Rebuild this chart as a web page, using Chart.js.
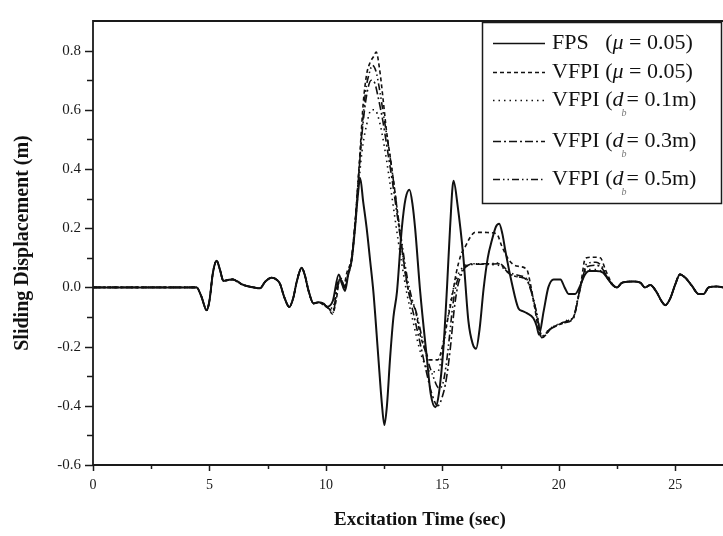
<!DOCTYPE html>
<html>
<head>
<meta charset="utf-8">
<script src="https://cdn.jsdelivr.net/npm/chart.js@4.4.1/dist/chart.umd.min.js"></script>
<style>
  html, body { margin: 0; padding: 0; background: #fff; }
  #wrap { width: 723px; height: 536px; position: relative; }
</style>
</head>
<body>
<div id="wrap"><canvas id="dispChart"></canvas></div>
<script>
// Shared start of the record (all five isolators move together up to ~9.7 s)
const preTime = [0, 4.45, 4.65, 4.88, 5.0, 5.15, 5.31, 5.45, 5.6, 5.8, 6.0, 6.2, 6.4, 6.6, 6.9, 7.17, 7.4, 7.67, 7.85, 8.03, 8.2, 8.43, 8.6, 8.75, 8.96, 9.1, 9.25, 9.47, 9.7];
const preDisp = [0, 0, -0.03, -0.077, -0.045, 0.05, 0.09, 0.06, 0.022, 0.025, 0.027, 0.02, 0.01, 0.005, 0.0, -0.003, 0.02, 0.033, 0.028, 0.012, -0.03, -0.066, -0.035, 0.02, 0.066, 0.04, -0.01, -0.054, -0.05];

// Shared end of the record (curves merge again after ~22.4 s)
const tailTime = [22.5, 22.7, 22.92, 23.2, 23.5, 23.7, 23.93, 24.2, 24.4, 24.57, 24.78, 25.0, 25.2, 25.43, 25.71, 26.0, 26.22, 26.43, 26.8, 27.05];
const tailDisp = [0.0, 0.015, 0.019, 0.02, 0.016, 0.0, 0.008, -0.016, -0.045, -0.06, -0.038, 0.01, 0.044, 0.033, 0.006, -0.022, -0.022, 0.0, 0.003, 0.0];

// FPS (mu = 0.05) - solid
const fpsTime = [9.9, 10.05, 10.3, 10.55, 10.7, 10.82, 10.95, 11.11, 11.25, 11.37, 11.47, 11.6, 11.75, 11.9, 12.04, 12.25, 12.4, 12.51, 12.62, 12.76, 12.9, 13.05, 13.26, 13.42, 13.59, 13.72, 13.83, 14.05, 14.33, 14.5, 14.7, 14.85, 15.05, 15.2, 15.33, 15.48, 15.65, 15.9, 16.12, 16.3, 16.45, 16.6, 16.77, 16.95, 17.13, 17.3, 17.44, 17.58, 17.7, 17.98, 18.27, 18.45, 18.63, 18.91, 19.05, 19.15, 19.35, 19.55, 19.78, 20.07, 20.25, 20.42, 20.7, 20.92, 21.1, 21.3, 21.6, 21.9, 22.1, 22.3];
const fpsDisp = [-0.055, -0.065, -0.045, 0.044, 0.01, -0.012, 0.04, 0.094, 0.2, 0.31, 0.37, 0.29, 0.2, 0.09, -0.016, -0.235, -0.39, -0.465, -0.4, -0.234, -0.1, -0.016, 0.2, 0.3, 0.33, 0.28, 0.2, -0.016, -0.235, -0.36, -0.405, -0.36, -0.2, 0.0, 0.2, 0.36, 0.28, 0.104, -0.115, -0.19, -0.207, -0.14, -0.005, 0.1, 0.16, 0.205, 0.215, 0.18, 0.126, 0.016, -0.071, -0.08, -0.087, -0.104, -0.13, -0.16, -0.08, 0.0, 0.027, 0.027, 0.0, -0.022, -0.022, 0.006, 0.04, 0.055, 0.055, 0.05, 0.03, 0.01];

// VFPI (mu = 0.05) - dashed
const vfpiMuTime = [9.9, 10.1, 10.28, 10.45, 10.6, 10.75, 10.9, 11.1, 11.25, 11.4, 11.5, 11.6, 11.75, 11.9, 12.05, 12.16, 12.3, 12.45, 12.6, 12.8, 13.0, 13.2, 13.4, 13.6, 13.85, 14.05, 14.3, 14.45, 14.8, 15.0, 15.2, 15.4, 15.6, 15.8, 16.0, 16.2, 16.4, 16.8, 17.0, 17.34, 17.55, 17.77, 18.0, 18.27, 18.63, 18.77, 18.95, 19.1, 19.27, 19.45, 19.63, 19.9, 20.2, 20.45, 20.63, 20.85, 21.0, 21.1, 21.2, 21.5, 21.78, 22.0, 22.2, 22.35];
const vfpiMuDisp = [-0.06, -0.07, -0.09, -0.04, 0.03, 0.0, 0.05, 0.1, 0.22, 0.38, 0.5, 0.62, 0.72, 0.76, 0.78, 0.795, 0.74, 0.64, 0.53, 0.42, 0.3, 0.17, 0.05, -0.03, -0.08, -0.16, -0.22, -0.245, -0.245, -0.2, -0.12, -0.04, 0.05, 0.11, 0.14, 0.17, 0.186, 0.186, 0.185, 0.18, 0.14, 0.104, 0.08, 0.071, 0.06, 0.016, -0.06, -0.13, -0.17, -0.16, -0.142, -0.13, -0.12, -0.11, -0.1, -0.03, 0.04, 0.09, 0.1, 0.102, 0.1, 0.06, 0.025, 0.005];

// VFPI (d_b = 0.1 m) - dotted
const vfpi01Time = [9.9, 10.1, 10.3, 10.5, 10.65, 10.8, 10.95, 11.1, 11.25, 11.4, 11.55, 11.75, 11.95, 12.1, 12.3, 12.5, 12.7, 12.9, 13.1, 13.3, 13.5, 13.7, 13.9, 14.1, 14.35, 14.5, 14.8, 15.0, 15.2, 15.4, 15.6, 15.8, 16.0, 16.4, 17.0, 17.4, 17.7, 17.9, 18.3, 18.63, 18.8, 19.0, 19.2, 19.3, 19.6, 20.0, 20.4, 20.63, 20.85, 21.05, 21.25, 21.6, 21.9, 22.1, 22.35];
const vfpi01Disp = [-0.055, -0.068, -0.07, 0.02, 0.03, 0.0, 0.04, 0.09, 0.2, 0.34, 0.46, 0.55, 0.6, 0.6, 0.56, 0.48, 0.38, 0.27, 0.16, 0.06, -0.03, -0.1, -0.17, -0.23, -0.275, -0.285, -0.285, -0.22, -0.12, -0.03, 0.03, 0.06, 0.075, 0.08, 0.077, 0.075, 0.06, 0.045, 0.035, 0.027, -0.01, -0.08, -0.15, -0.165, -0.14, -0.125, -0.11, -0.1, -0.03, 0.04, 0.06, 0.06, 0.05, 0.03, 0.005];

// VFPI (d_b = 0.3 m) - dash dot
const vfpi03Time = [9.9, 10.1, 10.3, 10.5, 10.65, 10.8, 10.95, 11.1, 11.25, 11.4, 11.55, 11.75, 11.95, 12.1, 12.25, 12.45, 12.65, 12.85, 13.05, 13.25, 13.45, 13.65, 13.85, 14.05, 14.3, 14.55, 14.8, 15.05, 15.19, 15.35, 15.5, 15.65, 15.85, 16.05, 16.4, 17.0, 17.4, 17.9, 18.3, 18.6, 18.8, 19.06, 19.27, 19.63, 20.2, 20.63, 20.85, 21.05, 21.2, 21.6, 21.9, 22.1, 22.35];
const vfpi03Disp = [-0.058, -0.07, -0.08, 0.01, 0.03, 0.0, 0.045, 0.09, 0.21, 0.37, 0.52, 0.65, 0.7, 0.69, 0.64, 0.56, 0.46, 0.36, 0.25, 0.14, 0.03, -0.05, -0.12, -0.19, -0.28, -0.36, -0.4, -0.355, -0.3, -0.2, -0.08, 0.0, 0.05, 0.072, 0.078, 0.078, 0.08, 0.044, 0.035, 0.027, -0.01, -0.093, -0.17, -0.142, -0.12, -0.104, -0.027, 0.038, 0.07, 0.075, 0.06, 0.03, 0.005];

// VFPI (d_b = 0.5 m) - dash dot dot
const vfpi05Time = [9.9, 10.1, 10.3, 10.5, 10.65, 10.8, 10.95, 11.1, 11.25, 11.4, 11.55, 11.7, 11.85, 12.0, 12.15, 12.3, 12.5, 12.7, 12.9, 13.1, 13.3, 13.5, 13.7, 13.9, 14.1, 14.35, 14.6, 14.85, 15.0, 15.15, 15.3, 15.45, 15.6, 15.8, 16.0, 16.4, 17.0, 17.4, 17.9, 18.3, 18.6, 18.8, 19.06, 19.27, 19.63, 20.2, 20.63, 20.85, 21.05, 21.2, 21.6, 21.9, 22.1, 22.35];
const vfpi05Disp = [-0.056, -0.07, -0.085, 0.0, 0.03, 0.0, 0.045, 0.095, 0.21, 0.37, 0.53, 0.66, 0.72, 0.75, 0.73, 0.67, 0.57, 0.47, 0.36, 0.24, 0.13, 0.03, -0.04, -0.09, -0.16, -0.24, -0.3, -0.34, -0.33, -0.27, -0.17, -0.06, 0.01, 0.05, 0.07, 0.08, 0.08, 0.082, 0.05, 0.04, 0.03, -0.005, -0.09, -0.165, -0.14, -0.118, -0.1, -0.025, 0.04, 0.08, 0.085, 0.065, 0.03, 0.005];

// join the shared start/end with each series' own middle part
function toPoints(midTime, midDisp) {
    const t = preTime.concat(midTime, tailTime);
    const v = preDisp.concat(midDisp, tailDisp);
    return t.map((x, i) => ({ x: x, y: v[i] }));
}

const serifFont = "'Liberation Serif', 'Times New Roman', serif";

// legend rows: [text, style] pieces, style '' normal, 'i' italic, 'sub' subscript
const legendText = [
    [['FPS   (', ''], ['\u03bc', 'i'], [' = 0.05)', '']],
    [['VFPI (', ''], ['\u03bc', 'i'], [' = 0.05)', '']],
    [['VFPI (', ''], ['d', 'i'], ['b', 'sub'], ['= 0.1m)', '']],
    [['VFPI (', ''], ['d', 'i'], ['b', 'sub'], ['= 0.3m)', '']],
    [['VFPI (', ''], ['d', 'i'], ['b', 'sub'], ['= 0.5m)', '']]
];

// Frame with outward tick marks (left, top, bottom only - the right side is cut off)
const framePlugin = {
    id: 'framePlugin',
    afterDatasetsDraw(chart) {
        const { ctx, chartArea: a, scales } = chart;
        const xs = scales.x, ys = scales.y;
        ctx.save();
        ctx.strokeStyle = '#1a1a1a';
        ctx.lineWidth = 1.8;
        ctx.beginPath();
        ctx.moveTo(a.right, a.top);
        ctx.lineTo(a.left, a.top);
        ctx.lineTo(a.left, a.bottom);
        ctx.lineTo(a.right, a.bottom);
        ctx.stroke();

        ctx.lineWidth = 1.5;
        ys.ticks.forEach(t => {
            if (t.value > 0.85) return;
            const py = Math.round(ys.getPixelForValue(t.value)) + 0.5;
            const len = t.label ? 8 : 6;
            ctx.beginPath();
            ctx.moveTo(a.left - len, py);
            ctx.lineTo(a.left, py);
            ctx.stroke();
        });
        xs.ticks.forEach(t => {
            const px = Math.round(xs.getPixelForValue(t.value)) + 0.5;
            ctx.beginPath();
            ctx.moveTo(px, a.bottom);
            ctx.lineTo(px, a.bottom + 6);
            ctx.stroke();
            // minor tick halfway to the next label
            const mid = t.value + 2.5;
            if (mid < xs.max) {
                const pm = Math.round(xs.getPixelForValue(mid)) + 0.5;
                ctx.beginPath();
                ctx.moveTo(pm, a.bottom);
                ctx.lineTo(pm, a.bottom + 4);
                ctx.stroke();
            }
        });
        ctx.restore();
    }
};

// Boxed legend with the line samples and subscripts
const legendPlugin = {
    id: 'legendPlugin',
    afterDraw(chart) {
        const ctx = chart.ctx;
        const rows = [43, 72, 100, 141, 179];
        ctx.save();
        ctx.fillStyle = '#fff';
        ctx.fillRect(482, 22, 240, 182);
        ctx.strokeStyle = '#1a1a1a';
        ctx.lineWidth = 1.5;
        ctx.strokeRect(482.5, 22.5, 239, 181);

        chart.data.datasets.forEach((ds, i) => {
            const y = rows[i] + 0.5;
            ctx.strokeStyle = '#111';
            ctx.lineWidth = 1.3;
            ctx.setLineDash(ds.borderDash || []);
            ctx.beginPath();
            ctx.moveTo(493, y);
            ctx.lineTo(545, y);
            ctx.stroke();
            ctx.setLineDash([]);

            let x = 552;
            ctx.fillStyle = '#111';
            ctx.textBaseline = 'middle';
            legendText[i].forEach(([txt, style]) => {
                if (style === 'sub') {
                    ctx.font = 'italic 10px ' + serifFont;
                    ctx.fillStyle = '#777';
                    ctx.fillText(txt, x - 2, rows[i] + 13);
                    ctx.fillStyle = '#111';
                    x += 3;
                    return;
                }
                ctx.font = (style === 'i' ? 'italic ' : '') + '22px ' + serifFont;
                ctx.fillText(txt, x, rows[i]);
                x += ctx.measureText(txt).width;
            });
        });
        ctx.restore();
    }
};

const lineBase = {
    borderColor: '#111',
    borderWidth: 1.6,
    pointRadius: 0,
    fill: false,
    cubicInterpolationMode: 'monotone'
};

var dispCtx = document.getElementById('dispChart').getContext('2d');
var dispChart = new Chart(dispCtx, {
    type: 'line',
    data: {
        datasets: [
            Object.assign({ label: 'FPS (\u03bc = 0.05)', data: toPoints(fpsTime, fpsDisp) }, lineBase, { borderWidth: 2 }),
            Object.assign({ label: 'VFPI (\u03bc = 0.05)', data: toPoints(vfpiMuTime, vfpiMuDisp), borderDash: [4, 3] }, lineBase),
            Object.assign({ label: 'VFPI (d_b = 0.1m)', data: toPoints(vfpi01Time, vfpi01Disp), borderDash: [1.5, 4] }, lineBase),
            Object.assign({ label: 'VFPI (d_b = 0.3m)', data: toPoints(vfpi03Time, vfpi03Disp), borderDash: [8, 3, 2, 3] }, lineBase),
            Object.assign({ label: 'VFPI (d_b = 0.5m)', data: toPoints(vfpi05Time, vfpi05Disp), borderDash: [7, 3, 1.5, 3, 1.5, 3] }, lineBase)
        ]
    },
    options: {
        responsive: true,
        maintainAspectRatio: false,
        animation: false,
        layout: {
            padding: { top: 8, right: 0, left: 0, bottom: 0 }
        },
        scales: {
            x: {
                type: 'linear',
                min: 0,
                max: 27.05,
                afterFit: (scale) => { scale.height = 71; },
                grid: { display: false, drawTicks: false },
                border: { display: false },
                ticks: {
                    stepSize: 5,
                    includeBounds: false,
                    maxRotation: 0,
                    padding: 12,
                    color: '#1a1a1a',
                    font: { family: serifFont, size: 14 }
                },
                title: {
                    display: true,
                    text: '     Excitation Time (sec)',
                    color: '#111',
                    padding: { top: 0, bottom: 5 },
                    font: { family: serifFont, size: 19, weight: 'bold' }
                }
            },
            y: {
                min: -0.6,
                max: 0.9,
                afterFit: (scale) => { scale.width = 93; },
                grid: { display: false, drawTicks: false },
                border: { display: false },
                ticks: {
                    stepSize: 0.1,
                    includeBounds: false,
                    autoSkip: false,
                    padding: 12,
                    color: '#1a1a1a',
                    font: { family: serifFont, size: 15 },
                    callback: (v) => {
                        const k = Math.round(v * 10);
                        return (k % 2 === 0 && k <= 8) ? (k / 10).toFixed(1) : '';
                    }
                },
                title: {
                    display: true,
                    text: 'Sliding Displacement (m)',
                    color: '#111',
                    padding: { top: 11, bottom: 0 },
                    font: { family: serifFont, size: 20, weight: 'bold' }
                }
            }
        },
        plugins: {
            legend: { display: false },
            tooltip: { enabled: false }
        }
    },
    plugins: [framePlugin, legendPlugin]
});
</script>
</body>
</html>
